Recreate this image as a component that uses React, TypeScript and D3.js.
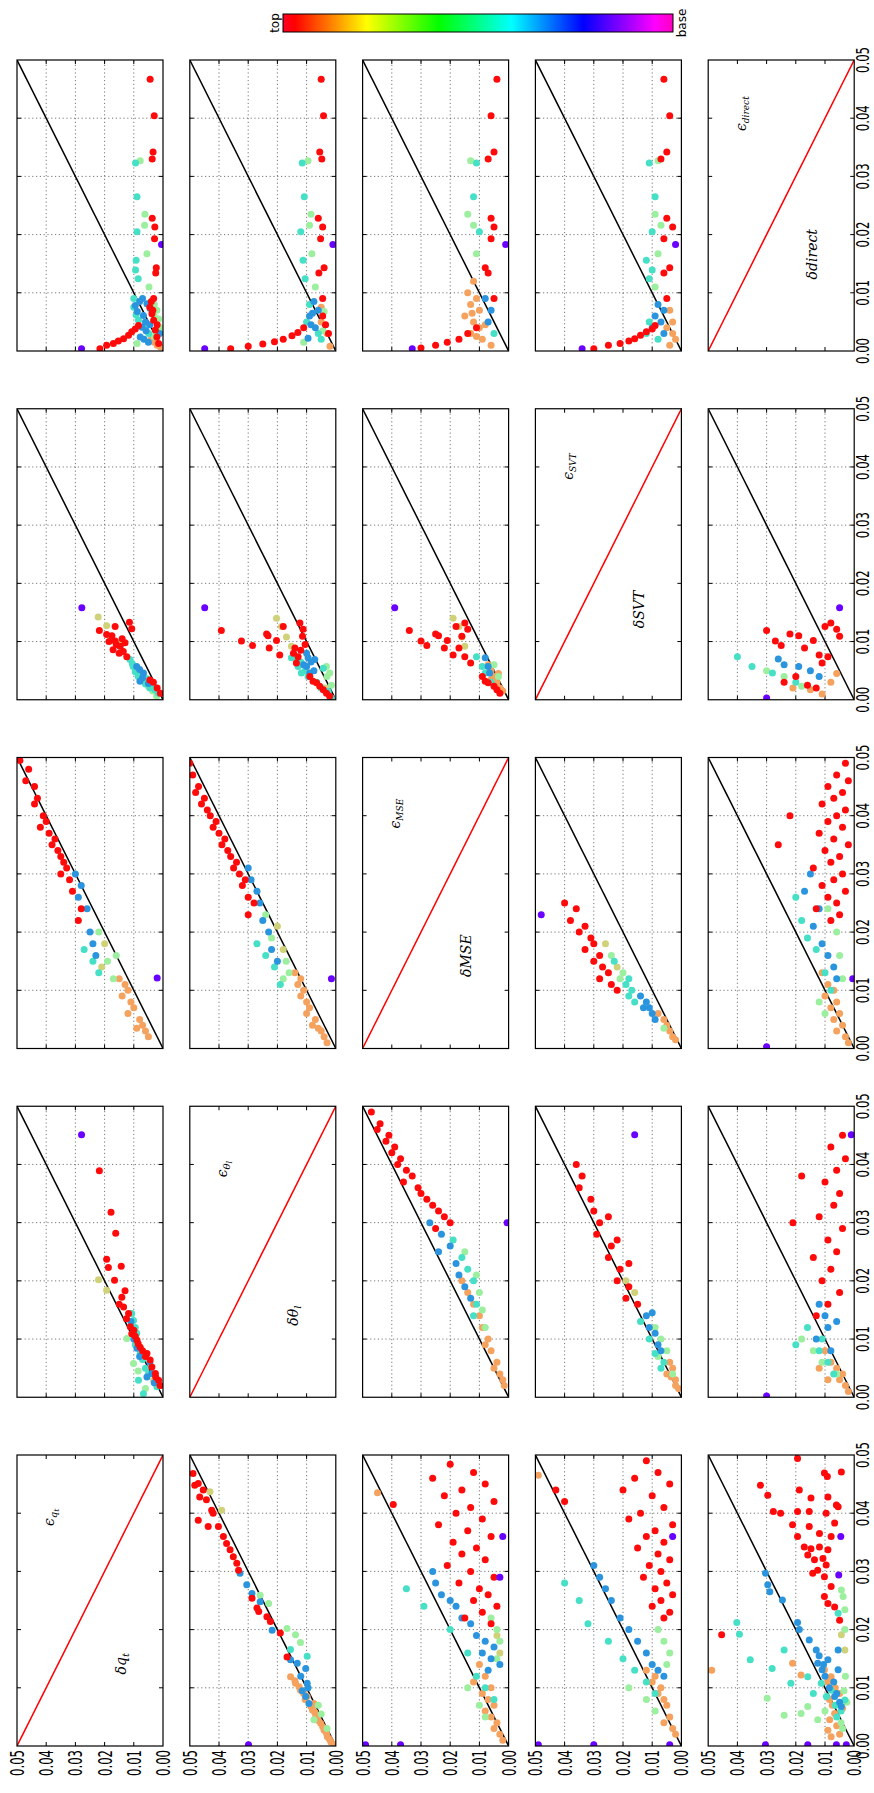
import React from "react";
import * as d3 from "d3";

type Pt = [number, number, string];

// variable names: original rows/cols order
const VARS = ["qt", "thl", "MSE", "SVT", "direct"];
const TICK_VALUES = [0, 0.01, 0.02, 0.03, 0.04, 0.05];
const TICK_LABELS = ["0.00", "0.01", "0.02", "0.03", "0.04", "0.05"];
const COLORBAR_LABELS = ["top", "base"];
const COLORS: Record<string, string> = {
  R: "#ff0a0a", O: "#f5a25f", Y: "#d0d27a", G: "#9cef9e", C: "#45e0c6", B: "#2a95de", P: "#6a00ff",
};
const Z: Record<string, number> = { O: 0, Y: 1, G: 2, C: 3, B: 4, R: 5, P: 6 };

// ---------- data (x, y, level colour) ----------
const qtDirect: Pt[] = [
  [.0081,.0055,"B"],[.0073,.0044,"B"],[.0061,.0067,"B"],[.0053,.0084,"C"],[.0041,.0072,"B"],[.0030,.0049,"C"],[.0024,.0078,"B"],[.0013,.0089,"G"],[.0070,.0021,"G"],[.0007,.0009,"O"],[.0030,.0011,"B"],[.0045,.0060,"C"],[.0060,.0030,"G"],[.0090,.0070,"B"],[.0020,.0040,"O"],
  [.0085,.0080,"B"],[.0078,.0095,"B"],[.0068,.0088,"B"],[.0050,.0060,"B"],[.0045,.0045,"B"],[.0035,.0058,"B"],[.0020,.0065,"B"],[.0015,.0050,"B"],
  [.0075,.0100,"C"],[.0090,.0100,"C"],[.0062,.0092,"C"],[.0080,.0030,"G"],[.0055,.0015,"G"],[.0040,.0010,"G"],[.0025,.0030,"G"],[.0015,.0030,"O"],[.0010,.0020,"O"],
  [.0323,.0094,"C"],[.0265,.0089,"C"],[.0205,.0089,"C"],[.0156,.0092,"C"],[.0139,.0094,"C"],[.0124,.0085,"C"],
  [.0327,.0078,"G"],[.0235,.0062,"G"],[.0216,.0063,"G"],[.0167,.0055,"G"],[.0110,.0048,"G"],
  [.0467,.0044,"R"],[.0404,.0030,"R"],[.0342,.0034,"R"],[.0330,.0037,"R"],[.0228,.0037,"R"],[.0213,.0028,"R"],[.0193,.0029,"R"],[.0143,.0023,"R"],[.0134,.0025,"R"],[.0090,.0032,"R"],
  [.0064,.0038,"R"],[.0053,.0032,"R"],[.0036,.0026,"R"],[.0024,.0021,"R"],[.0013,.0015,"R"],[.0075,.0045,"R"],[.0085,.0040,"R"],[.0070,.0035,"R"],[.0045,.0020,"R"],
  [.0004,.0216,"R"],[.0010,.0193,"R"],[.0013,.0170,"R"],[.0017,.0153,"R"],[.0021,.0135,"R"],[.0027,.0118,"R"],[.0033,.0107,"R"],[.0038,.0095,"R"],[.0044,.0084,"R"],
  [.0183,.0005,"P"],[.0004,.0279,"P"],
];
const thlDirect: Pt[] = [
  [.0085,.0075,"B"],[.0070,.0060,"B"],[.0060,.0090,"B"],[.0050,.0100,"C"],[.0040,.0070,"B"],[.0030,.0060,"C"],[.0022,.0095,"B"],[.0015,.0110,"G"],[.0068,.0040,"G"],[.0008,.0020,"O"],[.0030,.0030,"O"],[.0050,.0050,"O"],
  [.0080,.0090,"C"],[.0065,.0080,"B"],[.0045,.0085,"B"],[.0035,.0045,"G"],[.0020,.0050,"C"],[.0075,.0050,"O"],
  [.0323,.0115,"C"],[.0265,.0108,"C"],[.0205,.0120,"C"],[.0156,.0112,"C"],[.0124,.0105,"C"],
  [.0327,.0095,"G"],[.0235,.0085,"G"],[.0216,.0090,"G"],[.0167,.0082,"G"],[.0110,.0070,"G"],
  [.0467,.0050,"R"],[.0404,.0042,"R"],[.0342,.0055,"R"],[.0330,.0048,"R"],[.0228,.0060,"R"],[.0213,.0045,"R"],[.0193,.0052,"R"],[.0143,.0040,"R"],[.0134,.0058,"R"],[.0090,.0045,"R"],
  [.0060,.0045,"R"],[.0045,.0035,"R"],[.0030,.0025,"R"],
  [.0004,.0360,"R"],[.0008,.0300,"R"],[.0012,.0250,"R"],[.0016,.0210,"R"],[.0020,.0180,"R"],[.0026,.0150,"R"],[.0032,.0130,"R"],[.0040,.0110,"R"],
  [.0183,.0010,"P"],[.0004,.0449,"P"],
];
const mseDirect: Pt[] = [
  [.0120,.0120,"O"],[.0100,.0140,"O"],[.0080,.0130,"O"],[.0060,.0150,"O"],[.0050,.0120,"O"],[.0040,.0100,"O"],[.0030,.0130,"O"],[.0020,.0090,"O"],[.0070,.0100,"O"],[.0010,.0060,"O"],
  [.0090,.0110,"O"],[.0065,.0125,"O"],[.0045,.0080,"O"],[.0025,.0110,"O"],
  [.0090,.0080,"B"],[.0070,.0060,"B"],[.0050,.0070,"B"],[.0030,.0050,"C"],
  [.0323,.0110,"C"],[.0265,.0120,"C"],[.0205,.0100,"C"],
  [.0327,.0130,"G"],[.0235,.0140,"G"],[.0216,.0120,"G"],[.0167,.0110,"G"],
  [.0467,.0040,"R"],[.0404,.0060,"R"],[.0342,.0050,"R"],[.0330,.0070,"R"],[.0228,.0060,"R"],[.0213,.0050,"R"],[.0193,.0060,"R"],[.0143,.0080,"R"],[.0134,.0070,"R"],[.0090,.0050,"R"],
  [.0005,.0300,"R"],[.0010,.0250,"R"],[.0015,.0210,"R"],[.0020,.0170,"R"],[.0030,.0140,"R"],[.0040,.0110,"R"],
  [.0183,.0010,"P"],[.0004,.0330,"P"],
];
const svtDirect: Pt[] = [
  [.0080,.0080,"B"],[.0070,.0060,"B"],[.0060,.0090,"B"],[.0050,.0070,"B"],[.0040,.0100,"B"],[.0030,.0060,"B"],
  [.0050,.0110,"C"],[.0030,.0120,"C"],[.0020,.0080,"C"],
  [.0070,.0040,"O"],[.0050,.0030,"O"],[.0040,.0050,"O"],[.0030,.0030,"O"],[.0020,.0020,"O"],[.0010,.0040,"O"],
  [.0323,.0110,"C"],[.0265,.0090,"C"],[.0205,.0100,"C"],[.0156,.0120,"C"],[.0139,.0100,"C"],[.0124,.0110,"C"],
  [.0327,.0080,"G"],[.0235,.0090,"G"],[.0216,.0070,"G"],[.0167,.0080,"G"],[.0110,.0090,"G"],
  [.0467,.0060,"R"],[.0404,.0040,"R"],[.0342,.0050,"R"],[.0330,.0070,"R"],[.0228,.0050,"R"],[.0213,.0030,"R"],[.0193,.0060,"R"],[.0143,.0040,"R"],[.0134,.0060,"R"],[.0090,.0050,"R"],
  [.0004,.0300,"R"],[.0010,.0250,"R"],[.0013,.0210,"R"],[.0017,.0180,"R"],[.0021,.0160,"R"],[.0027,.0140,"R"],[.0033,.0120,"R"],[.0038,.0100,"R"],[.0044,.0090,"R"],
  [.0183,.0020,"P"],[.0004,.0340,"P"],
];
const qtSVT: Pt[] = [
  [.0069,.0113,"C"],[.0057,.0102,"C"],[.0052,.0090,"C"],[.0046,.0079,"C"],[.0041,.0067,"C"],[.0036,.0055,"C"],[.0030,.0044,"C"],[.0024,.0033,"C"],[.0017,.0027,"C"],[.0011,.0016,"C"],[.0092,.0147,"C"],
  [.0062,.0105,"C"],[.0048,.0095,"C"],[.0040,.0085,"C"],[.0027,.0060,"C"],[.0020,.0045,"C"],
  [.0057,.0090,"B"],[.0046,.0067,"B"],[.0032,.0079,"B"],[.0052,.0080,"B"],[.0038,.0070,"B"],[.0028,.0050,"B"],
  [.0023,.0050,"G"],[.0006,.0022,"G"],[.0015,.0035,"G"],
  [.0142,.0222,"Y"],[.0127,.0193,"Y"],[.0098,.0150,"Y"],
  [.0119,.0218,"R"],[.0126,.0164,"R"],[.0133,.0115,"R"],[.0122,.0107,"R"],[.0112,.0193,"R"],[.0101,.0164,"R"],[.0092,.0147,"R"],[.0098,.0130,"R"],[.0086,.0171,"R"],[.0083,.0136,"R"],[.0074,.0124,"R"],
  [.0080,.0150,"R"],[.0095,.0160,"R"],[.0105,.0140,"R"],[.0110,.0175,"R"],[.0100,.0185,"R"],
  [.0034,.0045,"R"],[.0030,.0033,"R"],[.0020,.0020,"R"],[.0011,.0009,"R"],
  [.0158,.0278,"P"],
];
const thlSVT: Pt[] = [
  [.0074,.0140,"C"],[.0072,.0152,"C"],[.0057,.0129,"C"],[.0046,.0118,"C"],[.0054,.0043,"C"],[.0014,.0026,"C"],[.0003,.0015,"C"],
  [.0065,.0120,"C"],[.0050,.0105,"C"],[.0040,.0095,"C"],[.0030,.0065,"C"],[.0020,.0050,"C"],
  [.0072,.0095,"B"],[.0069,.0072,"B"],[.0057,.0100,"B"],[.0046,.0089,"B"],[.0080,.0100,"B"],[.0065,.0085,"B"],[.0050,.0075,"B"],[.0060,.0110,"B"],
  [.0057,.0032,"G"],[.0046,.0021,"G"],[.0020,.0038,"Y"],[.0040,.0030,"G"],[.0025,.0015,"G"],
  [.0140,.0203,"Y"],[.0126,.0186,"Y"],[.0108,.0169,"Y"],[.0092,.0152,"Y"],
  [.0119,.0392,"R"],[.0101,.0323,"R"],[.0093,.0285,"R"],[.0113,.0237,"R"],[.0110,.0232,"R"],[.0089,.0228,"R"],[.0102,.0203,"R"],[.0077,.0192,"R"],[.0126,.0180,"R"],[.0132,.0123,"R"],[.0121,.0112,"R"],[.0109,.0114,"R"],[.0089,.0140,"R"],[.0074,.0129,"R"],[.0063,.0135,"R"],
  [.0085,.0120,"R"],[.0095,.0105,"R"],[.0080,.0145,"R"],
  [.0040,.0089,"R"],[.0032,.0078,"R"],[.0029,.0066,"R"],[.0023,.0055,"R"],[.0017,.0043,"R"],[.0011,.0032,"R"],[.0006,.0021,"R"],
  [.0158,.0449,"P"],
];
const mseSVT: Pt[] = [
  [.0060,.0070,"O"],[.0050,.0060,"O"],[.0040,.0050,"O"],[.0030,.0040,"O"],[.0020,.0030,"O"],[.0035,.0060,"O"],[.0045,.0035,"O"],[.0015,.0020,"O"],
  [.0074,.0110,"C"],[.0057,.0090,"C"],[.0046,.0080,"C"],[.0030,.0060,"C"],
  [.0072,.0080,"B"],[.0057,.0070,"B"],[.0046,.0065,"B"],[.0060,.0050,"G"],[.0040,.0035,"G"],
  [.0140,.0190,"Y"],[.0126,.0170,"Y"],[.0108,.0160,"Y"],[.0092,.0150,"Y"],
  [.0119,.0340,"R"],[.0101,.0300,"R"],[.0093,.0280,"R"],[.0113,.0250,"R"],[.0110,.0240,"R"],[.0089,.0220,"R"],[.0102,.0210,"R"],[.0077,.0190,"R"],[.0126,.0180,"R"],[.0132,.0150,"R"],[.0121,.0140,"R"],[.0109,.0160,"R"],[.0089,.0170,"R"],[.0074,.0150,"R"],[.0063,.0130,"R"],
  [.0040,.0090,"R"],[.0032,.0080,"R"],[.0029,.0070,"R"],[.0023,.0050,"R"],[.0017,.0040,"R"],[.0011,.0030,"R"],
  [.0158,.0390,"P"],
];
const directSVT: Pt[] = [
  [.0020,.0210,"O"],[.0017,.0150,"O"],[.0010,.0110,"O"],[.0030,.0080,"O"],[.0045,.0060,"O"],
  [.0074,.0400,"C"],[.0057,.0350,"C"],[.0046,.0280,"C"],[.0030,.0200,"C"],
  [.0070,.0260,"B"],[.0060,.0240,"B"],[.0057,.0190,"B"],[.0050,.0150,"B"],[.0040,.0120,"B"],
  [.0050,.0300,"G"],[.0040,.0240,"G"],[.0023,.0180,"G"],
  [.0119,.0300,"R"],[.0101,.0270,"R"],[.0093,.0250,"R"],[.0113,.0220,"R"],[.0110,.0190,"R"],[.0089,.0170,"R"],[.0102,.0140,"R"],[.0077,.0120,"R"],[.0126,.0100,"R"],[.0132,.0080,"R"],[.0121,.0060,"R"],[.0109,.0050,"R"],[.0074,.0090,"R"],[.0063,.0110,"R"],[.0040,.0200,"R"],[.0030,.0240,"R"],[.0025,.0160,"R"],[.0020,.0130,"R"],
  [.0158,.0050,"P"],[.0003,.0300,"P"],
];
const qtMSE: Pt[] = [
  [.0120,.0150,"O"],[.0110,.0130,"O"],[.0100,.0120,"O"],[.0090,.0140,"O"],[.0080,.0110,"O"],[.0070,.0100,"O"],[.0060,.0120,"O"],[.0050,.0080,"O"],[.0040,.0070,"O"],[.0035,.0090,"O"],[.0030,.0060,"O"],[.0020,.0050,"O"],
  [.0200,.0220,"G"],[.0180,.0200,"Y"],[.0150,.0190,"G"],[.0140,.0210,"Y"],[.0120,.0170,"G"],[.0160,.0160,"G"],
  [.0170,.0270,"C"],[.0130,.0220,"C"],[.0150,.0240,"C"],
  [.0300,.0300,"B"],[.0280,.0280,"B"],[.0260,.0290,"B"],[.0240,.0260,"B"],[.0200,.0250,"B"],[.0180,.0240,"B"],[.0160,.0230,"B"],
  [.0495,.0490,"R"],[.0480,.0460,"R"],[.0460,.0470,"R"],[.0450,.0440,"R"],[.0430,.0430,"R"],[.0420,.0440,"R"],[.0400,.0410,"R"],[.0390,.0400,"R"],[.0380,.0420,"R"],[.0370,.0390,"R"],[.0360,.0370,"R"],[.0350,.0380,"R"],[.0340,.0360,"R"],[.0330,.0350,"R"],[.0320,.0340,"R"],[.0310,.0330,"R"],[.0300,.0350,"R"],[.0290,.0320,"R"],[.0270,.0310,"R"],[.0240,.0280,"R"],[.0220,.0290,"R"],
  [.0121,.0020,"P"],
];
const thlMSE: Pt[] = [
  [.0130,.0140,"O"],[.0120,.0120,"O"],[.0110,.0130,"O"],[.0100,.0110,"O"],[.0090,.0120,"O"],[.0080,.0100,"O"],[.0070,.0090,"O"],[.0060,.0100,"O"],[.0050,.0070,"O"],[.0040,.0080,"O"],[.0035,.0060,"O"],[.0030,.0050,"O"],[.0020,.0040,"O"],[.0010,.0030,"O"],
  [.0230,.0240,"G"],[.0210,.0200,"Y"],[.0190,.0220,"G"],[.0170,.0180,"Y"],[.0150,.0170,"G"],[.0130,.0160,"G"],[.0120,.0180,"G"],
  [.0180,.0270,"C"],[.0160,.0240,"C"],[.0140,.0210,"C"],[.0110,.0190,"C"],
  [.0310,.0300,"B"],[.0290,.0290,"B"],[.0270,.0270,"B"],[.0250,.0260,"B"],[.0220,.0250,"B"],[.0200,.0230,"B"],[.0170,.0220,"B"],[.0150,.0200,"B"],
  [.0490,.0500,"R"],[.0470,.0490,"R"],[.0450,.0470,"R"],[.0440,.0480,"R"],[.0430,.0450,"R"],[.0420,.0460,"R"],[.0410,.0440,"R"],[.0400,.0430,"R"],[.0390,.0410,"R"],[.0380,.0420,"R"],[.0370,.0400,"R"],[.0360,.0380,"R"],[.0350,.0390,"R"],[.0340,.0370,"R"],[.0330,.0360,"R"],[.0320,.0340,"R"],[.0310,.0350,"R"],[.0300,.0330,"R"],[.0290,.0310,"R"],[.0280,.0320,"R"],[.0260,.0300,"R"],[.0250,.0280,"R"],[.0230,.0300,"R"],
  [.0120,.0015,"P"],
];
const svtMSE: Pt[] = [
  [.0050,.0060,"O"],[.0040,.0050,"O"],[.0030,.0040,"O"],[.0020,.0030,"O"],[.0060,.0080,"O"],[.0035,.0060,"G"],[.0015,.0020,"O"],
  [.0090,.0140,"B"],[.0080,.0120,"B"],[.0070,.0130,"B"],[.0060,.0100,"B"],[.0050,.0090,"B"],[.0070,.0110,"B"],
  [.0150,.0230,"C"],[.0110,.0190,"C"],[.0100,.0170,"C"],[.0090,.0180,"C"],[.0080,.0160,"C"],[.0120,.0180,"C"],
  [.0180,.0260,"Y"],[.0160,.0240,"G"],[.0140,.0220,"Y"],[.0130,.0200,"G"],[.0120,.0210,"G"],
  [.0250,.0400,"R"],[.0240,.0360,"R"],[.0220,.0380,"R"],[.0210,.0330,"R"],[.0200,.0350,"R"],[.0190,.0310,"R"],[.0180,.0300,"R"],[.0170,.0330,"R"],[.0160,.0280,"R"],[.0150,.0300,"R"],[.0140,.0270,"R"],[.0130,.0250,"R"],[.0120,.0280,"R"],[.0110,.0240,"R"],[.0100,.0220,"R"],
  [.0230,.0480,"P"],
];
const directMSE: Pt[] = [
  [.0130,.0110,"O"],[.0110,.0090,"O"],[.0100,.0070,"O"],[.0090,.0100,"O"],[.0080,.0060,"O"],[.0070,.0080,"O"],[.0060,.0050,"O"],[.0050,.0070,"O"],[.0040,.0040,"O"],[.0030,.0060,"O"],[.0020,.0030,"O"],[.0010,.0020,"O"],
  [.0240,.0090,"G"],[.0200,.0060,"G"],[.0160,.0050,"G"],[.0120,.0040,"G"],[.0080,.0120,"G"],[.0060,.0100,"G"],
  [.0260,.0200,"C"],[.0220,.0180,"C"],[.0190,.0160,"C"],[.0170,.0130,"C"],[.0130,.0100,"C"],[.0100,.0080,"C"],
  [.0300,.0150,"B"],[.0270,.0170,"B"],[.0240,.0120,"B"],[.0210,.0140,"B"],[.0180,.0110,"B"],[.0160,.0090,"B"],[.0140,.0070,"B"],[.0120,.0060,"B"],
  [.0490,.0030,"R"],[.0470,.0060,"R"],[.0460,.0020,"R"],[.0450,.0090,"R"],[.0440,.0040,"R"],[.0430,.0070,"R"],[.0420,.0110,"R"],[.0410,.0030,"R"],[.0400,.0060,"R"],[.0390,.0090,"R"],[.0380,.0040,"R"],[.0370,.0120,"R"],[.0360,.0070,"R"],[.0350,.0020,"R"],[.0340,.0100,"R"],[.0330,.0050,"R"],[.0320,.0080,"R"],[.0310,.0140,"R"],[.0300,.0040,"R"],[.0290,.0070,"R"],[.0280,.0110,"R"],[.0270,.0030,"R"],[.0260,.0090,"R"],[.0250,.0060,"R"],[.0240,.0130,"R"],[.0230,.0050,"R"],[.0220,.0080,"R"],[.0400,.0220,"R"],[.0350,.0260,"R"],
  [.0120,.0005,"P"],[.0003,.0300,"P"],
];
const qtThl: Pt[] = [
  [.0144,.0107,"C"],[.0132,.0101,"C"],[.0075,.0078,"C"],[.0029,.0084,"C"],[.0006,.0067,"C"],[.0018,.0021,"C"],
  [.0120,.0095,"C"],[.0110,.0090,"C"],[.0090,.0095,"C"],[.0065,.0070,"C"],[.0050,.0060,"C"],[.0040,.0050,"C"],
  [.0084,.0089,"B"],[.0035,.0055,"B"],[.0041,.0038,"B"],[.0130,.0110,"B"],[.0100,.0100,"B"],[.0070,.0080,"B"],[.0060,.0045,"B"],[.0025,.0030,"B"],
  [.0101,.0124,"G"],[.0058,.0101,"G"],[.0029,.0032,"Y"],[.0045,.0085,"G"],[.0015,.0060,"G"],
  [.0202,.0221,"Y"],[.0184,.0193,"Y"],
  [.0389,.0218,"R"],[.0318,.0178,"R"],[.0282,.0162,"R"],[.0237,.0193,"R"],[.0223,.0187,"R"],[.0225,.0143,"R"],[.0201,.0166,"R"],[.0183,.0130,"R"],[.0172,.0141,"R"],[.0155,.0135,"R"],[.0144,.0118,"R"],[.0121,.0112,"R"],[.0109,.0107,"R"],[.0098,.0089,"R"],[.0086,.0078,"R"],[.0075,.0055,"R"],[.0064,.0044,"R"],[.0052,.0038,"R"],[.0041,.0026,"R"],[.0029,.0015,"R"],
  [.0160,.0150,"R"],[.0135,.0125,"R"],[.0115,.0100,"R"],[.0105,.0095,"R"],[.0092,.0085,"R"],[.0080,.0070,"R"],[.0070,.0060,"R"],[.0035,.0025,"R"],[.0020,.0010,"R"],
  [.0451,.0279,"P"],
];
const mseThl: Pt[] = [
  [.0200,.0160,"O"],[.0180,.0140,"O"],[.0160,.0120,"O"],[.0140,.0100,"O"],[.0120,.0090,"O"],[.0100,.0070,"O"],[.0090,.0080,"O"],[.0080,.0060,"O"],[.0060,.0040,"O"],[.0050,.0050,"O"],[.0040,.0030,"O"],[.0030,.0020,"O"],[.0020,.0015,"O"],
  [.0250,.0150,"G"],[.0210,.0110,"G"],[.0180,.0100,"G"],[.0150,.0090,"G"],[.0120,.0080,"G"],
  [.0270,.0190,"C"],[.0240,.0160,"C"],[.0220,.0140,"C"],[.0200,.0120,"C"],[.0160,.0110,"C"],[.0140,.0120,"C"],
  [.0300,.0270,"B"],[.0280,.0230,"B"],[.0260,.0200,"B"],[.0250,.0240,"B"],[.0230,.0180,"B"],[.0210,.0170,"B"],[.0190,.0150,"B"],[.0170,.0130,"B"],
  [.0490,.0470,"R"],[.0470,.0440,"R"],[.0460,.0450,"R"],[.0450,.0410,"R"],[.0440,.0420,"R"],[.0430,.0390,"R"],[.0420,.0400,"R"],[.0410,.0370,"R"],[.0400,.0380,"R"],[.0390,.0350,"R"],[.0380,.0330,"R"],[.0370,.0360,"R"],[.0360,.0310,"R"],[.0350,.0300,"R"],[.0340,.0280,"R"],[.0330,.0260,"R"],[.0320,.0240,"R"],[.0310,.0220,"R"],[.0300,.0200,"R"],[.0290,.0250,"R"],
  [.0300,.0005,"P"],
];
const svtThl: Pt[] = [
  [.0060,.0040,"O"],[.0050,.0030,"O"],[.0040,.0050,"O"],[.0030,.0020,"O"],[.0020,.0020,"O"],[.0015,.0010,"O"],[.0035,.0035,"O"],
  [.0120,.0090,"G"],[.0100,.0070,"G"],[.0080,.0050,"G"],[.0070,.0080,"G"],[.0040,.0030,"G"],
  [.0130,.0140,"C"],[.0100,.0110,"C"],[.0075,.0090,"C"],[.0060,.0060,"C"],[.0050,.0070,"C"],
  [.0140,.0120,"B"],[.0120,.0110,"B"],[.0110,.0090,"B"],[.0090,.0080,"B"],[.0080,.0070,"B"],[.0145,.0100,"B"],
  [.0200,.0190,"Y"],[.0180,.0160,"Y"],
  [.0400,.0360,"R"],[.0380,.0340,"R"],[.0360,.0350,"R"],[.0340,.0310,"R"],[.0320,.0300,"R"],[.0300,.0280,"R"],[.0280,.0290,"R"],[.0260,.0240,"R"],[.0240,.0250,"R"],[.0220,.0210,"R"],[.0200,.0220,"R"],[.0190,.0180,"R"],[.0170,.0190,"R"],[.0160,.0150,"R"],[.0310,.0250,"R"],[.0270,.0220,"R"],[.0230,.0180,"R"],
  [.0451,.0160,"P"],
];
const directThl: Pt[] = [
  [.0080,.0100,"O"],[.0060,.0080,"O"],[.0050,.0060,"O"],[.0040,.0040,"O"],[.0030,.0050,"O"],[.0020,.0030,"O"],[.0010,.0020,"O"],[.0050,.0120,"O"],[.0030,.0090,"O"],
  [.0100,.0180,"G"],[.0080,.0140,"G"],[.0060,.0110,"G"],[.0040,.0060,"G"],
  [.0120,.0160,"C"],[.0100,.0110,"C"],[.0080,.0120,"C"],[.0060,.0090,"C"],[.0040,.0070,"C"],[.0090,.0200,"C"],
  [.0160,.0120,"B"],[.0140,.0100,"B"],[.0120,.0090,"B"],[.0100,.0130,"B"],[.0080,.0080,"B"],[.0130,.0060,"B"],
  [.0450,.0040,"R"],[.0430,.0080,"R"],[.0410,.0030,"R"],[.0390,.0060,"R"],[.0370,.0100,"R"],[.0350,.0050,"R"],[.0330,.0070,"R"],[.0310,.0120,"R"],[.0290,.0040,"R"],[.0270,.0090,"R"],[.0250,.0060,"R"],[.0240,.0140,"R"],[.0220,.0080,"R"],[.0200,.0110,"R"],[.0180,.0050,"R"],[.0160,.0090,"R"],[.0140,.0130,"R"],[.0380,.0180,"R"],[.0300,.0210,"R"],
  [.0451,.0010,"P"],[.0002,.0300,"P"],
];
const thlQt: Pt[] = [
  [.0119,.0155,"O"],[.0108,.0138,"O"],[.0096,.0121,"O"],[.0085,.0098,"O"],[.0062,.0080,"O"],[.0050,.0069,"O"],[.0039,.0052,"O"],[.0027,.0040,"O"],[.0016,.0029,"O"],[.0007,.0017,"O"],[.0102,.0126,"O"],[.0073,.0075,"O"],
  [.0112,.0140,"O"],[.0090,.0110,"O"],[.0080,.0105,"O"],[.0068,.0085,"O"],[.0058,.0072,"O"],[.0044,.0060,"O"],[.0033,.0045,"O"],[.0022,.0032,"O"],[.0012,.0022,"O"],[.0003,.0008,"O"],
  [.0259,.0259,"G"],[.0245,.0230,"G"],[.0202,.0167,"G"],[.0191,.0138,"G"],[.0178,.0121,"G"],[.0045,.0075,"G"],[.0070,.0060,"G"],[.0055,.0050,"G"],[.0030,.0030,"G"],
  [.0154,.0098,"C"],[.0166,.0155,"C"],
  [.0297,.0328,"B"],[.0277,.0305,"B"],[.0262,.0287,"B"],[.0248,.0259,"B"],[.0199,.0218,"B"],[.0148,.0155,"B"],[.0142,.0132,"B"],[.0133,.0103,"B"],[.0085,.0103,"B"],[.0073,.0092,"B"],[.0108,.0098,"B"],[.0120,.0120,"B"],[.0100,.0095,"B"],[.0095,.0115,"B"],
  [.0437,.0431,"Y"],[.0405,.0391,"Y"],
  [.0468,.0489,"R"],[.0448,.0483,"R"],[.0451,.0471,"R"],[.0428,.0466,"R"],[.0440,.0454,"R"],[.0423,.0443,"R"],[.0388,.0471,"R"],[.0405,.0425,"R"],[.0400,.0420,"R"],[.0377,.0437,"R"],[.0377,.0402,"R"],[.0360,.0385,"R"],[.0348,.0374,"R"],[.0337,.0362,"R"],[.0325,.0351,"R"],[.0314,.0339,"R"],[.0302,.0333,"R"],[.0254,.0287,"R"],[.0237,.0270,"R"],[.0231,.0264,"R"],[.0222,.0236,"R"],[.0214,.0224,"R"],[.0194,.0190,"R"],[.0153,.0167,"R"],
  [.0002,.0299,"P"],
];
const mseQt: Pt[] = [
  [.0435,.0449,"O"],[.0140,.0100,"O"],[.0120,.0080,"O"],[.0110,.0120,"O"],[.0100,.0060,"O"],[.0090,.0090,"O"],[.0080,.0070,"O"],[.0070,.0050,"O"],[.0060,.0080,"O"],[.0050,.0060,"O"],[.0040,.0040,"O"],[.0030,.0050,"O"],[.0020,.0030,"O"],[.0010,.0020,"O"],
  [.0190,.0040,"Y"],[.0160,.0030,"Y"],
  [.0220,.0060,"G"],[.0200,.0040,"G"],[.0180,.0030,"G"],[.0150,.0040,"G"],[.0100,.0140,"G"],[.0070,.0100,"G"],[.0050,.0080,"G"],
  [.0270,.0350,"C"],[.0240,.0290,"C"],[.0200,.0200,"C"],[.0160,.0140,"C"],[.0120,.0110,"C"],[.0100,.0080,"C"],[.0080,.0050,"C"],
  [.0300,.0260,"B"],[.0280,.0250,"B"],[.0260,.0230,"B"],[.0250,.0200,"B"],[.0240,.0180,"B"],[.0220,.0160,"B"],[.0210,.0130,"B"],[.0190,.0110,"B"],[.0180,.0080,"B"],[.0170,.0050,"B"],[.0160,.0090,"B"],[.0150,.0060,"B"],[.0140,.0030,"B"],[.0130,.0070,"B"],
  [.0484,.0200,"R"],[.0470,.0120,"R"],[.0460,.0260,"R"],[.0450,.0080,"R"],[.0440,.0160,"R"],[.0430,.0220,"R"],[.0420,.0050,"R"],[.0410,.0130,"R"],[.0415,.0395,"R"],[.0400,.0180,"R"],[.0390,.0090,"R"],[.0380,.0240,"R"],[.0370,.0140,"R"],[.0360,.0060,"R"],[.0350,.0190,"R"],[.0340,.0110,"R"],[.0330,.0160,"R"],[.0320,.0080,"R"],[.0310,.0210,"R"],[.0300,.0130,"R"],[.0290,.0050,"R"],[.0280,.0170,"R"],[.0270,.0100,"R"],[.0260,.0070,"R"],[.0250,.0120,"R"],[.0240,.0040,"R"],[.0230,.0090,"R"],[.0220,.0150,"R"],[.0210,.0060,"R"],
  [.0002,.0490,"P"],[.0002,.0370,"P"],[.0360,.0020,"P"],[.0290,.0030,"P"],
];
const svtQt: Pt[] = [
  [.0465,.0490,"O"],[.0130,.0120,"O"],[.0120,.0090,"O"],[.0110,.0100,"O"],[.0100,.0070,"O"],[.0090,.0080,"O"],[.0080,.0060,"O"],[.0070,.0050,"O"],[.0050,.0040,"O"],[.0040,.0060,"O"],[.0030,.0030,"O"],[.0020,.0020,"O"],
  [.0200,.0080,"G"],[.0180,.0060,"G"],[.0160,.0040,"G"],[.0140,.0050,"G"],[.0100,.0180,"G"],[.0080,.0120,"G"],[.0060,.0090,"G"],
  [.0280,.0400,"C"],[.0250,.0350,"C"],[.0210,.0320,"C"],[.0180,.0250,"C"],[.0150,.0200,"C"],[.0130,.0160,"C"],[.0110,.0120,"C"],[.0090,.0090,"C"],
  [.0310,.0300,"B"],[.0290,.0280,"B"],[.0270,.0260,"B"],[.0250,.0240,"B"],[.0220,.0210,"B"],[.0200,.0180,"B"],[.0180,.0150,"B"],[.0160,.0120,"B"],[.0140,.0100,"B"],[.0130,.0080,"B"],[.0120,.0060,"B"],
  [.0490,.0120,"R"],[.0470,.0080,"R"],[.0460,.0160,"R"],[.0450,.0040,"R"],[.0440,.0200,"R"],[.0430,.0100,"R"],[.0410,.0060,"R"],[.0400,.0140,"R"],[.0390,.0180,"R"],[.0380,.0030,"R"],[.0370,.0090,"R"],[.0360,.0120,"R"],[.0350,.0060,"R"],[.0340,.0150,"R"],[.0330,.0080,"R"],[.0320,.0040,"R"],[.0310,.0110,"R"],[.0300,.0070,"R"],[.0290,.0130,"R"],[.0280,.0050,"R"],[.0270,.0090,"R"],[.0260,.0030,"R"],[.0250,.0070,"R"],[.0240,.0100,"R"],[.0230,.0040,"R"],[.0220,.0060,"R"],[.0420,.0400,"R"],[.0440,.0430,"R"],
  [.0002,.0490,"P"],[.0002,.0300,"P"],[.0002,.0040,"P"],[.0360,.0030,"P"],
];
const directQt: Pt[] = [
  [.0130,.0488,"O"],[.0142,.0211,"O"],[.0122,.0182,"O"],[.0131,.0102,"O"],[.0119,.0079,"O"],[.0027,.0090,"O"],[.0016,.0079,"O"],[.0045,.0084,"O"],[.0056,.0067,"O"],[.0035,.0060,"O"],[.0020,.0050,"O"],[.0070,.0075,"O"],
  [.0100,.0065,"O"],[.0090,.0050,"O"],[.0065,.0040,"O"],[.0080,.0085,"O"],[.0110,.0090,"O"],
  [.0191,.0044,"Y"],[.0165,.0032,"Y"],
  [.0082,.0298,"G"],[.0053,.0240,"G"],[.0056,.0182,"G"],[.0068,.0159,"G"],[.0045,.0125,"G"],[.0268,.0044,"G"],[.0257,.0038,"G"],[.0234,.0032,"G"],[.0200,.0032,"G"],[.0060,.0100,"G"],
  [.0040,.0045,"G"],[.0030,.0040,"G"],[.0095,.0035,"G"],[.0075,.0025,"G"],[.0120,.0030,"G"],
  [.0212,.0402,"C"],[.0192,.0393,"C"],[.0148,.0356,"C"],[.0165,.0240,"C"],[.0133,.0281,"C"],[.0108,.0217,"C"],[.0119,.0159,"C"],[.0108,.0113,"C"],[.0096,.0079,"C"],[.0079,.0032,"C"],[.0228,.0055,"C"],[.0090,.0140,"C"],
  [.0070,.0065,"C"],[.0060,.0045,"C"],[.0050,.0060,"C"],[.0085,.0095,"C"],
  [.0297,.0304,"B"],[.0277,.0296,"B"],[.0265,.0289,"B"],[.0251,.0246,"B"],[.0212,.0194,"B"],[.0200,.0188,"B"],[.0182,.0154,"B"],[.0165,.0130,"B"],[.0142,.0125,"B"],[.0131,.0110,"B"],[.0148,.0090,"B"],[.0131,.0055,"B"],[.0085,.0067,"B"],[.0068,.0044,"B"],[.0165,.0055,"B"],
  [.0120,.0100,"B"],[.0100,.0085,"B"],[.0090,.0060,"B"],[.0075,.0050,"B"],[.0110,.0070,"B"],[.0140,.0105,"B"],[.0155,.0120,"B"],
  [.0494,.0194,"R"],[.0469,.0102,"R"],[.0471,.0044,"R"],[.0463,.0092,"R"],[.0448,.0321,"R"],[.0440,.0188,"R"],[.0431,.0296,"R"],[.0426,.0148,"R"],[.0428,.0090,"R"],[.0414,.0061,"R"],[.0411,.0055,"R"],[.0403,.0277,"R"],[.0400,.0252,"R"],[.0403,.0194,"R"],[.0403,.0154,"R"],[.0400,.0096,"R"],[.0380,.0211,"R"],[.0377,.0154,"R"],[.0383,.0067,"R"],[.0360,.0194,"R"],[.0365,.0119,"R"],[.0360,.0079,"R"],[.0342,.0171,"R"],[.0339,.0148,"R"],[.0342,.0119,"R"],[.0337,.0090,"R"],[.0328,.0159,"R"],[.0320,.0136,"R"],[.0322,.0107,"R"],[.0311,.0096,"R"],[.0302,.0125,"R"],[.0297,.0142,"R"],[.0291,.0102,"R"],[.0274,.0079,"R"],[.0257,.0102,"R"],[.0245,.0090,"R"],[.0239,.0067,"R"],[.0216,.0050,"R"],[.0191,.0454,"R"],
  [.0360,.0046,"P"],[.0294,.0053,"P"],[.0002,.0304,"P"],[.0002,.0159,"P"],[.0002,.0061,"P"],[.0002,.0027,"P"],
];

// panels indexed [row][col] of the (landscape) figure; null = diagonal
const PANELS: (Pt[] | null)[][] = [
  [null, qtThl, qtMSE, qtSVT, qtDirect],
  [thlQt, null, thlMSE, thlSVT, thlDirect],
  [mseQt, mseThl, null, mseSVT, mseDirect],
  [svtQt, svtThl, svtMSE, null, svtDirect],
  [directQt, directThl, directMSE, directSVT, null],
];

const GIST_STOPS: [number, string][] = [
  [0, "#ff0029"], [0.03, "#ff0000"], [0.215, "#ffff00"], [0.4, "#00ff00"], [0.586, "#00ffff"], [0.77, "#0000ff"], [0.954, "#ff00ff"], [1, "#ff00bf"],
];

// ---------- layout (landscape figure coordinates, rotated into the page) ----------
const FIG_W = 1793;
const PW = 291, PH = 146;
const LEFT0 = 47, TOP0 = 17, DX = 348.75, DY = 172.8;

function EpsLabel({ v }: { v: string }) {
  if (v === "qt") return (<>ϵ<tspan fontSize={10} dy={3}>q</tspan><tspan fontSize={8} dy={2}>t</tspan></>);
  if (v === "thl") return (<>ϵ<tspan fontSize={10} dy={3}>θ</tspan><tspan fontSize={8} dy={2}>l</tspan></>);
  return (<>ϵ<tspan fontSize={9} dy={3}>{v}</tspan></>);
}
function DelLabel({ v }: { v: string }) {
  if (v === "qt") return (<>δq<tspan fontSize={10} dy={3}>t</tspan></>);
  if (v === "thl") return (<>δθ<tspan fontSize={10} dy={3}>l</tspan></>);
  return (<>δ{v}</>);
}

function Panel({ r, c }: { r: number; c: number }) {
  const x = d3.scaleLinear().domain([0, 0.05]).range([0, PW]);
  const y = d3.scaleLinear().domain([0, 0.05]).range([PH, 0]);
  const left = LEFT0 + c * DX;
  const top = TOP0 + r * DY;
  const data = PANELS[r][c];
  const inner = TICK_VALUES.slice(1, 5);
  const clipId = `clip-${r}-${c}`;
  const line = d3.line<[number, number]>().x(d => x(d[0])).y(d => y(d[1]));
  const pts = data ? [...data].sort((a, b) => Z[a[2]] - Z[b[2]]) : [];
  return (
    <g transform={`translate(${left},${top})`}>
      <defs>
        <clipPath id={clipId}><rect x={0} y={0} width={PW} height={PH} /></clipPath>
      </defs>
      <rect x={0} y={0} width={PW} height={PH} fill="#fff" />
      {data && inner.map(t => (
        <g key={"g" + t} stroke="#555" strokeWidth={0.8} strokeDasharray="1.2,2.6">
          <line x1={x(t)} x2={x(t)} y1={0} y2={PH} />
          <line x1={0} x2={PW} y1={y(t)} y2={y(t)} />
        </g>
      ))}
      {inner.map(t => (
        <g key={"t" + t} stroke="#000" strokeWidth={1}>
          <line x1={x(t)} x2={x(t)} y1={PH} y2={PH - 4} />
          <line x1={x(t)} x2={x(t)} y1={0} y2={4} />
          <line x1={0} x2={4} y1={y(t)} y2={y(t)} />
          <line x1={PW} x2={PW - 4} y1={y(t)} y2={y(t)} />
        </g>
      ))}
      <g clipPath={`url(#${clipId})`}>
        {data ? (
          <>
            <path d={line([[0, 0], [0.05, 0.05]]) || ""} stroke="#000" strokeWidth={1.5} fill="none" />
            {pts.map((p, k) => (
              <circle key={k} cx={x(p[0])} cy={y(p[1])} r={3.5} fill={COLORS[p[2]]} />
            ))}
          </>
        ) : (
          <path d={line([[0, 0.05], [0.05, 0]]) || ""} stroke="#ff0000" strokeWidth={1.5} fill="none" />
        )}
      </g>
      {!data && (
        <g fontFamily="DejaVu Serif" fontStyle="italic" fontSize={14} fill="#000">
          <text x={x(0.0378)} y={y(0.0372)}><EpsLabel v={VARS[r]} /></text>
          <text x={x(0.0123)} y={y(0.0128)}><DelLabel v={VARS[r]} /></text>
        </g>
      )}
      <rect x={0} y={0} width={PW} height={PH} fill="none" stroke="#000" strokeWidth={1.2} />
      {c === 0 && TICK_VALUES.map((t, k) => (
        <text key={"yl" + k} x={-4} y={y(t) + 7} textAnchor="end" fontFamily="DejaVu Sans" fontSize={19}
          textLength={26} lengthAdjust="spacingAndGlyphs" fill="#000">{TICK_LABELS[k]}</text>
      ))}
      {r === 4 && TICK_VALUES.map((t, k) => (
        <text key={"xl" + k} x={x(t)} y={PH + 15} textAnchor="middle" fontFamily="DejaVu Sans" fontSize={18}
          textLength={26} lengthAdjust="spacingAndGlyphs" fill="#000">{TICK_LABELS[k]}</text>
      ))}
    </g>
  );
}

function Colorbar() {
  const bx = 1761, by = 283, bw = 18, bh = 390;
  return (
    <g>
      <defs>
        <linearGradient id="cbgrad" x1="0" y1="0" x2="0" y2="1">
          {GIST_STOPS.map(([o, col]) => <stop key={o} offset={o} stopColor={col} />)}
        </linearGradient>
      </defs>
      <rect x={bx} y={by} width={bw} height={bh} fill="url(#cbgrad)" stroke="#000" strokeWidth={1} />
      <text x={bx + bw / 2} y={by - 4} textAnchor="middle" fontFamily="DejaVu Sans" fontSize={12}>{COLORBAR_LABELS[0]}</text>
      <text x={bx + bw / 2} y={by + bh + 13} textAnchor="middle" fontFamily="DejaVu Sans" fontSize={12}>{COLORBAR_LABELS[1]}</text>
    </g>
  );
}

export default function App() {
  const cells: { r: number; c: number }[] = [];
  for (let r = 0; r < 5; r++) for (let c = 0; c < 5; c++) cells.push({ r, c });
  return (
    <div style={{ position: "absolute", left: 0, top: 0, width: 874, height: 1793, background: "#fff" }}>
      <svg width={874} height={1793} style={{ display: "block" }}>
        <rect width={874} height={1793} fill="#fff" />
        <g transform={`translate(0,${FIG_W}) rotate(-90)`}>
          {cells.map(({ r, c }) => <Panel key={`${r}-${c}`} r={r} c={c} />)}
          <Colorbar />
        </g>
      </svg>
    </div>
  );
}
